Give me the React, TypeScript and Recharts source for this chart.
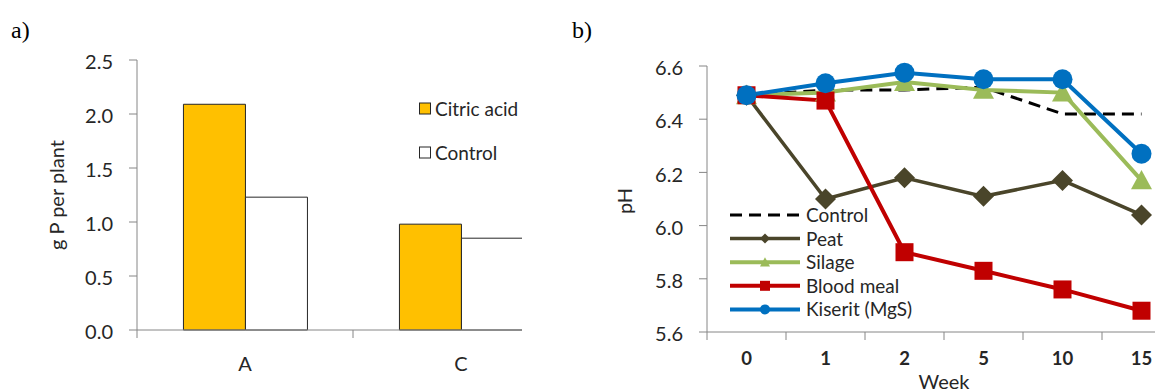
import React from "react";
import { BarChart, Bar, LineChart, Line, XAxis, YAxis, Legend, Label } from "recharts";

// a) phosphorus uptake
const categories = ["A", "C"];
const citricAcid = [2.09, 0.98];
const controlP = [1.23, 0.85];
const pTicks = [0, 0.5, 1.0, 1.5, 2.0, 2.5];

// b) soil pH over time
const weeks = ["0", "1", "2", "5", "10", "15"];
const phControl = [6.49, 6.51, 6.51, 6.52, 6.42, 6.42];
const phPeat = [6.49, 6.1, 6.18, 6.11, 6.17, 6.04];
const phSilage = [6.49, 6.5, 6.54, 6.51, 6.5, 6.17];
const phBlood = [6.49, 6.47, 5.9, 5.83, 5.76, 5.68];
const phKiserit = [6.49, 6.535, 6.575, 6.55, 6.55, 6.27];
const phTicks = [5.6, 5.8, 6.0, 6.2, 6.4, 6.6];

const AXIS = "#868686";
const TEXT = "#262626";
const FONT = "Lato, 'Open Sans', sans-serif";

const LEFT_W = 569;
const LEFT_YAXIS = 137;
const leftBand = (LEFT_W - LEFT_YAXIS) / categories.length;

const RIGHT_W = 621;
const RIGHT_YAXIS = 147;
const rightBand = (RIGHT_W - RIGHT_YAXIS) / weeks.length;

const barData = categories.map((c, i) => ({ cat: c, citric: citricAcid[i], control: controlP[i] }));

const barSeries = [
  { key: "citric", name: "Citric acid", fill: "#FFC000" },
  { key: "control", name: "Control", fill: "#FFFFFF" },
];

const phSeries = [
  { key: "control", name: "Control", values: phControl, color: "#000000", dash: "12 7", shape: "none", width: 3 },
  { key: "peat", name: "Peat", values: phPeat, color: "#4A452A", dash: undefined, shape: "diamond", width: 3.5 },
  { key: "silage", name: "Silage", values: phSilage, color: "#9BBB59", dash: undefined, shape: "triangle", width: 4 },
  { key: "blood", name: "Blood meal", values: phBlood, color: "#C00000", dash: undefined, shape: "square", width: 4 },
  { key: "kiserit", name: "Kiserit (MgS)", values: phKiserit, color: "#0070C0", dash: undefined, shape: "circle", width: 4 },
];

const markerSize: Record<string, number> = { diamond: 10.5, triangle: 10.5, square: 9, circle: 10 };

const lineData = weeks.map((w, i) => {
  const row: any = { week: w };
  phSeries.forEach((s) => (row[s.key] = s.values[i]));
  return row;
});

function Marker({ shape, cx, cy, r, color }: any) {
  if (shape === "diamond")
    return <polygon points={`${cx},${cy - r} ${cx + r},${cy} ${cx},${cy + r} ${cx - r},${cy}`} fill={color} />;
  if (shape === "triangle")
    return <polygon points={`${cx},${cy - r} ${cx + r},${cy + r * 0.85} ${cx - r},${cy + r * 0.85}`} fill={color} />;
  if (shape === "square") return <rect x={cx - r} y={cy - r} width={2 * r} height={2 * r} fill={color} />;
  if (shape === "circle") return <circle cx={cx} cy={cy} r={r} fill={color} />;
  return null;
}

// category label in the middle, tick mark on the category boundary
function CategoryTick(props: any) {
  const { x, y, payload, half, size, weight, baseline } = props;
  return (
    <g>
      <line x1={x - half} x2={x - half} y1={y - 8} y2={y} stroke={AXIS} />
      <text x={x} y={y - 8 + baseline} textAnchor="middle" fill={TEXT} fontSize={size} fontWeight={weight}>
        {payload.value}
      </text>
    </g>
  );
}

function BarLegend() {
  return (
    <svg width={120} height={70}>
      {barSeries.map((s, i) => (
        <g key={s.key} transform={`translate(0, ${i * 44})`}>
          <rect x={0.5} y={7} width={11} height={11} fill={s.fill} stroke="#262626" />
          <text x={16} y={19.5} fontSize={19} fill={TEXT}>
            {s.name}
          </text>
        </g>
      ))}
    </svg>
  );
}

function LineLegend() {
  return (
    <svg width={220} height={125}>
      {phSeries.map((s, i) => {
        const cy = 12 + i * 23.6;
        return (
          <g key={s.key}>
            <line x1={0} x2={70} y1={cy} y2={cy} stroke={s.color} strokeWidth={s.width} strokeDasharray={s.dash} />
            <Marker shape={s.shape} cx={35} cy={cy} r={5} color={s.color} />
            <text x={76} y={cy + 7} fontSize={19} fill={TEXT}>
              {s.name}
            </text>
          </g>
        );
      })}
    </svg>
  );
}

export default function App() {
  return (
    <div
      style={{
        position: "fixed",
        left: 0,
        top: 0,
        width: 1155,
        height: 392,
        overflow: "hidden",
        background: "#fff",
        fontFamily: FONT,
      }}
    >
      <svg width={1155} height={392} style={{ position: "absolute", left: 0, top: 0 }}>
        <text x={11} y={38} fontFamily="'Liberation Serif', 'Times New Roman', serif" fontSize={24} fill="#000">
          a)
        </text>
        <text x={572} y={38} fontFamily="'Liberation Serif', 'Times New Roman', serif" fontSize={24} fill="#000">
          b)
        </text>
      </svg>

      <div style={{ position: "absolute", left: 0, top: 0, width: 522, height: 392, overflow: "hidden" }}>
        <BarChart
          width={LEFT_W}
          height={392}
          data={barData}
          margin={{ top: 60, right: 0, bottom: 0, left: 0 }}
          barCategoryGap="21.5%"
          barGap={0}
        >
          <XAxis
            dataKey="cat"
            height={62}
            tickSize={8}
            tickMargin={0}
            tickLine={false}
            axisLine={{ stroke: AXIS }}
            interval={0}
            tick={<CategoryTick half={leftBand / 2} size={20} weight={400} baseline={41} />}
          />
          <YAxis
            width={LEFT_YAXIS}
            domain={[0, 2.5]}
            ticks={pTicks}
            tickFormatter={(v) => v.toFixed(1)}
            tickSize={8}
            tickMargin={16}
            axisLine={{ stroke: AXIS }}
            tickLine={{ stroke: AXIS }}
            tick={{ fill: TEXT, fontSize: 20, dy: 2 }}
          >
            <Label value="g P per plant" angle={-90} position="center" dx={-11.5} fill={TEXT} fontSize={20} />
          </YAxis>
          {barSeries.map((s) => (
            <Bar key={s.key} dataKey={s.key} name={s.name} fill={s.fill} stroke="#262626" strokeWidth={1} isAnimationActive={false} />
          ))}
          <Legend
            layout="vertical"
            align="center"
            verticalAlign="middle"
            content={<BarLegend />}
            wrapperStyle={{ left: 419, top: 96, width: 120, height: 70 }}
          />
        </BarChart>
      </div>

      <div style={{ position: "absolute", left: 560, top: 0, width: 595, height: 392, overflow: "hidden" }}>
        <LineChart width={RIGHT_W} height={392} data={lineData} margin={{ top: 66, right: 0, bottom: 0, left: 0 }}>
          <XAxis
            dataKey="week"
            height={60}
            padding={{ left: rightBand / 2, right: rightBand / 2 }}
            tickSize={8}
            tickMargin={0}
            tickLine={false}
            axisLine={{ stroke: AXIS }}
            interval={0}
            tick={<CategoryTick half={rightBand / 2} size={18.5} weight={700} baseline={33} />}
          >
            <Label value="Week" position="insideBottom" offset={3} fill={TEXT} fontSize={20} />
          </XAxis>
          <YAxis
            width={RIGHT_YAXIS}
            domain={[5.6, 6.6]}
            ticks={phTicks}
            tickFormatter={(v) => v.toFixed(1)}
            tickSize={8}
            tickMargin={16}
            axisLine={{ stroke: AXIS }}
            tickLine={{ stroke: AXIS }}
            tick={{ fill: TEXT, fontSize: 20, dy: 2 }}
          >
            <Label value="pH" angle={-90} position="center" dx={-8.5} dy={2} fill={TEXT} fontSize={20} />
          </YAxis>
          {phSeries.map((s) => (
            <Line
              key={s.key}
              dataKey={s.key}
              name={s.name}
              stroke={s.color}
              strokeWidth={s.width}
              strokeDasharray={s.dash}
              isAnimationActive={false}
              activeDot={false}
              dot={(p: any) => (
                <Marker key={`${s.key}-${p.index}`} shape={s.shape} cx={p.cx} cy={p.cy} r={markerSize[s.shape] || 0} color={s.color} />
              )}
            />
          ))}
          <Legend
            layout="vertical"
            align="center"
            verticalAlign="middle"
            content={<LineLegend />}
            wrapperStyle={{ left: 170, top: 203, width: 220, height: 125 }}
          />
        </LineChart>
      </div>
    </div>
  );
}
